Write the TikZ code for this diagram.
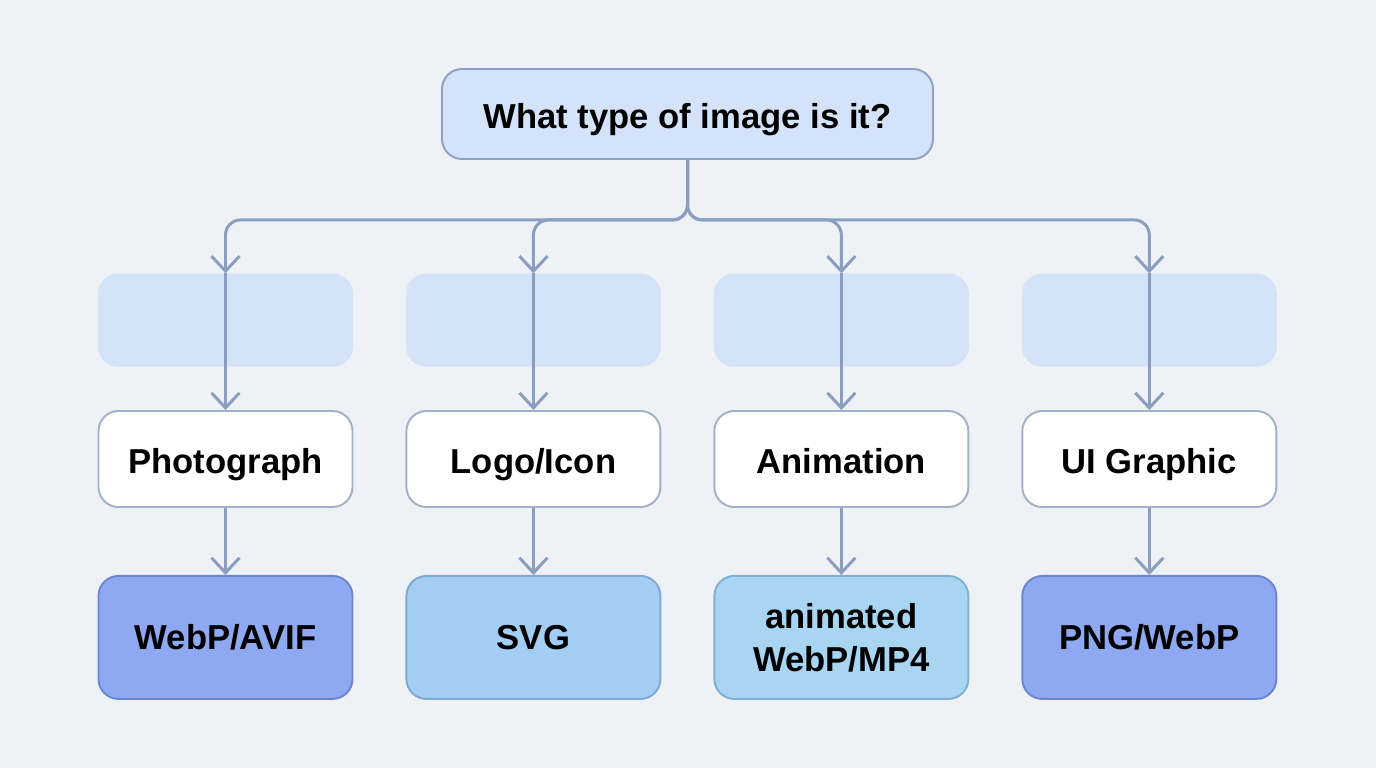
\documentclass[tikz,border=0pt]{standalone}
\usepackage{fontspec}
\setmainfont{Liberation Sans}
\usepackage{xcolor}
\definecolor{pageBg}{HTML}{EEF2F6}
\definecolor{qFill}{HTML}{D4E3F9}
\definecolor{qLine}{HTML}{8FA2C6}
\definecolor{fadeFill}{HTML}{D5E3F9}
\definecolor{wireBlue}{HTML}{8C9EC0}
\definecolor{midLine}{HTML}{A3B0C8}
\definecolor{deepFill}{HTML}{8EA8F1}
\definecolor{deepLine}{HTML}{6C85D3}
\definecolor{skyFill}{HTML}{A3CDF3}
\definecolor{skyLine}{HTML}{80A9D5}
\definecolor{iceFill}{HTML}{A8D5F2}
\definecolor{iceLine}{HTML}{80B0D6}
\usepackage{tikz}
\usetikzlibrary{arrows.meta, positioning}

\begin{document}
\begin{tikzpicture}[
  font=\fontsize{19.7}{24.4}\selectfont\bfseries,
  box/.style={draw, line width=1.1pt, rounded corners=0.4cm, minimum width=5.08cm, align=center},
  kind/.style={box, fill=white, draw=midLine, minimum height=1.92cm, text height=16.4pt, text depth=0pt},
  fmt/.style={box, minimum height=2.46cm},
  ghost/.style={fill=fadeFill, rounded corners=0.4cm, minimum width=5.1cm, minimum height=1.86cm},
  wire/.style={-{Straight Barb[length=3mm, width=5.6mm]}, line width=1.7pt, draw=wireBlue, rounded corners=0.3cm},
]
  \fill[pageBg] (0,0) rectangle (27.52,-15.36);

  \node[box, fill=qFill, draw=qLine, minimum width=9.82cm, minimum height=1.8cm, text height=16pt, text depth=0pt] (question) at (13.75,-2.28) {What type of image is it?};

  \node[kind] (photo) at (4.51,-9.18) {Photograph};
  \node[kind, right=1.04cm of photo] (logo) {Logo/Icon};
  \node[kind, right=1.04cm of logo] (anim) {Animation};
  \node[kind, right=1.04cm of anim] (uigfx) {UI Graphic};

  \node[ghost, above=0.86cm of photo] (ghostA) {};
  \node[ghost, above=0.86cm of logo] (ghostB) {};
  \node[ghost, above=0.86cm of anim] (ghostC) {};
  \node[ghost, above=0.86cm of uigfx] (ghostD) {};

  \node[fmt, fill=deepFill, draw=deepLine, below=1.34cm of photo] (webp) {WebP/AVIF};
  \node[fmt, fill=skyFill, draw=skyLine, below=1.34cm of logo] (svg) {SVG};
  \node[fmt, fill=iceFill, draw=iceLine, below=1.34cm of anim] (mp4) {animated\\WebP/MP4};
  \node[fmt, fill=deepFill, draw=deepLine, below=1.34cm of uigfx] (png) {PNG/WebP};

  \draw[wire] (question.south) -- ++(0,-1.2) -| (ghostA.north);
  \draw[wire] (question.south) -- ++(0,-1.2) -| (ghostB.north);
  \draw[wire] (question.south) -- ++(0,-1.2) -| (ghostC.north);
  \draw[wire] (question.south) -- ++(0,-1.2) -| (ghostD.north);

  \draw[wire] (ghostA.north) -- (photo.north);
  \draw[wire] (ghostB.north) -- (logo.north);
  \draw[wire] (ghostC.north) -- (anim.north);
  \draw[wire] (ghostD.north) -- (uigfx.north);

  \draw[wire] (photo) -- (webp);
  \draw[wire] (logo) -- (svg);
  \draw[wire] (anim) -- (mp4);
  \draw[wire] (uigfx) -- (png);
\end{tikzpicture}
\end{document}
